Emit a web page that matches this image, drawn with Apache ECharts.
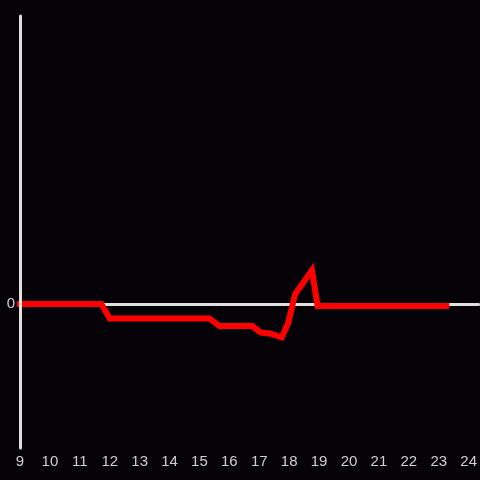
<!DOCTYPE html>
<html>
<head>
<meta charset="utf-8">
<script src="https://cdn.jsdelivr.net/npm/echarts@6/dist/echarts.min.js"></script>
<style>
  html, body { margin: 0; padding: 0; background: #050307; }
  #chart-panel { width: 480px; height: 480px; }
</style>
</head>
<body>
<div id="chart-panel"></div>
<script>
// hours of the day and the measured values
var hours = [9, 11.72, 12.0, 15.33, 15.67, 16.77, 17.05, 17.35, 17.75, 17.97, 18.2, 18.76, 18.95, 23.25];
var values = [0, 0, -0.1, -0.1, -0.153, -0.153, -0.198, -0.205, -0.232, -0.13, 0.07, 0.235, -0.014, -0.014];

var chart = echarts.init(document.getElementById('chart-panel'));

var points = [];
for (var i = 0; i < hours.length; i++) {
    points.push([hours[i], values[i]]);
}

var option = {
    backgroundColor: '#050307',
    animation: false,
    grid: {
        left: 20,
        right: 0,
        top: 16,
        bottom: 32
    },
    xAxis: {
        type: 'value',
        min: 9,
        max: 24.333,
        interval: 1,
        axisLine: {
            onZero: true,
            lineStyle: { color: '#e0e0e0', width: 3 }
        },
        axisTick: { show: false },
        splitLine: { show: false },
        axisLabel: {
            color: '#d0d0d0',
            fontSize: 15,
            fontFamily: 'Liberation Sans',
            margin: 6,
            showMaxLabel: false,
            formatter: function (v) {
                return v > 24 ? '' : v;
            }
        }
    },
    yAxis: {
        type: 'value',
        min: -1,
        max: 2,
        interval: 1,
        z: 10,
        axisLine: {
            show: true,
            onZero: false,
            lineStyle: { color: '#e0e0e0', width: 3 }
        },
        axisTick: { show: false },
        splitLine: { show: false },
        axisLabel: {
            color: '#d0d0d0',
            fontSize: 15,
            fontFamily: 'Liberation Sans',
            margin: 5,
            formatter: function (v) {
                return v === 0 ? '0' : '';
            }
        }
    },
    series: [{
        type: 'line',
        data: points,
        showSymbol: false,
        lineStyle: { color: '#ff0000', width: 6, cap: 'square', join: 'miter' },
        z: 3
    }]
};

chart.setOption(option);
</script>
</body>
</html>
